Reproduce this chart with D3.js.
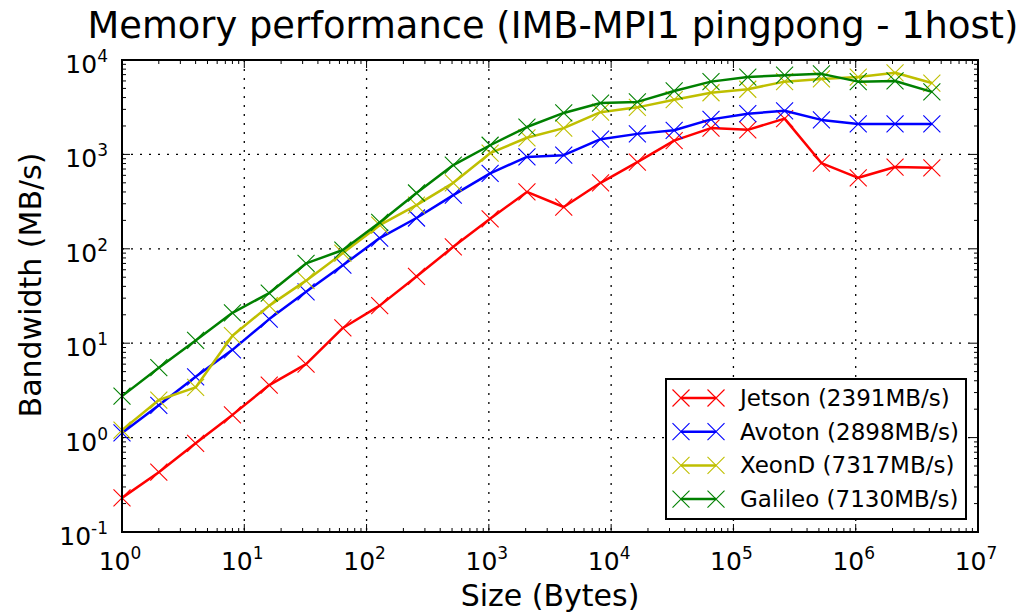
<!DOCTYPE html>
<html lang="en-us">
<head>
  <meta charset="UTF-8">
  <title>Memory performance</title>
  <script src="https://cdn.jsdelivr.net/npm/d3@7"></script>
  <style>
    body { margin: 0; background: #fff; }
    text { font-family: "DejaVu Sans", sans-serif; fill: #000; }
  </style>
</head>
<body>
<div id="chart"></div>
<script>

  // message sizes, 2^0 .. 2^22 bytes
  var sizes = [1, 2, 4, 8, 16, 32, 64, 128, 256, 512, 1024, 2048, 4096, 8192, 16384,
    32768, 65536, 131072, 262144, 524288, 1048576, 2097152, 4194304];

  var jetson = [0.23, 0.43, 0.87, 1.74, 3.6, 6.0, 14.5, 25, 51, 105, 208, 400, 277, 500, 830,
    1400, 1900, 1820, 2391, 810, 565, 735, 720];
  var avoton = [1.12, 2.2, 4.4, 8.5, 18, 35, 67, 130, 212, 370, 630, 940, 980, 1450, 1650,
    1800, 2350, 2700, 2898, 2320, 2100, 2100, 2100];
  var xeond = [1.2, 2.5, 3.4, 12, 25, 46, 90, 178, 290, 500, 1030, 1500, 1900, 2800, 3150,
    3800, 4500, 4900, 5900, 6300, 6600, 7317, 5700];
  var galileo = [2.75, 5.5, 10.7, 21, 34, 70, 97, 190, 390, 770, 1250, 1950, 2750, 3500, 3600,
    4700, 5900, 6600, 6900, 7130, 5900, 6000, 4600];

  var seriesNames = ["Jetson (2391MB/s)", "Avoton (2898MB/s)", "XeonD (7317MB/s)", "Galileo (7130MB/s)"];
  var seriesColors = ["#ff0000", "#0000ff", "#bfbf00", "#008000"];
  var seriesValues = [jetson, avoton, xeond, galileo];

  var xTicks = [1, 10, 100, 1e3, 1e4, 1e5, 1e6, 1e7];
  var yTicks = [0.1, 1, 10, 100, 1e3, 1e4];

  var W = 1021, H = 615;
  // plot box
  var pL = 122, pR = 978, pT = 60, pB = 532;

  var svg = d3.select("#chart").append("svg")
    .attr("width", W)
    .attr("height", H);

  var x = d3.scaleLog().domain([1, 1e7]).range([pL, pR]);
  var y = d3.scaleLog().domain([0.1, 1e4]).range([pB, pT]);

  function expLabel(sel, v) {
    var e = Math.round(Math.log10(v));
    sel.append("tspan").text("10");
    sel.append("tspan").attr("dy", -11).attr("font-size", 17).text(e);
  }

  function cross(cx, cy, s) {
    return "M" + (cx - s) + "," + (cy - s) + "L" + (cx + s) + "," + (cy + s) +
      "M" + (cx - s) + "," + (cy + s) + "L" + (cx + s) + "," + (cy - s);
  }

  // grid
  svg.append("g").selectAll("line").data(xTicks.slice(1, -1)).enter().append("line")
    .attr("x1", d => x(d)).attr("x2", d => x(d))
    .attr("y1", pT).attr("y2", pB)
    .attr("stroke", "#000").attr("stroke-width", 1.3).attr("stroke-dasharray", "2,7");
  svg.append("g").selectAll("line").data(yTicks.slice(1, -1)).enter().append("line")
    .attr("y1", d => y(d)).attr("y2", d => y(d))
    .attr("x1", pL).attr("x2", pR)
    .attr("stroke", "#000").attr("stroke-width", 1.3).attr("stroke-dasharray", "2,7");

  // ticks (inward, all four sides)
  var minorX = [], minorY = [];
  for (var e = 0; e < 7; e++) for (var m = 2; m < 10; m++) minorX.push(m * Math.pow(10, e));
  for (var e2 = -1; e2 < 4; e2++) for (var m2 = 2; m2 < 10; m2++) minorY.push(m2 * Math.pow(10, e2));

  var tk = svg.append("g").attr("stroke", "#000").attr("stroke-width", 1);
  xTicks.forEach(function(d) {
    tk.append("line").attr("x1", x(d)).attr("x2", x(d)).attr("y1", pB).attr("y2", pB - 8);
    tk.append("line").attr("x1", x(d)).attr("x2", x(d)).attr("y1", pT).attr("y2", pT + 8);
  });
  minorX.forEach(function(d) {
    tk.append("line").attr("x1", x(d)).attr("x2", x(d)).attr("y1", pB).attr("y2", pB - 4);
    tk.append("line").attr("x1", x(d)).attr("x2", x(d)).attr("y1", pT).attr("y2", pT + 4);
  });
  yTicks.forEach(function(d) {
    tk.append("line").attr("y1", y(d)).attr("y2", y(d)).attr("x1", pL).attr("x2", pL + 8);
    tk.append("line").attr("y1", y(d)).attr("y2", y(d)).attr("x1", pR).attr("x2", pR - 8);
  });
  minorY.forEach(function(d) {
    tk.append("line").attr("y1", y(d)).attr("y2", y(d)).attr("x1", pL).attr("x2", pL + 4);
    tk.append("line").attr("y1", y(d)).attr("y2", y(d)).attr("x1", pR).attr("x2", pR - 4);
  });

  // tick labels
  xTicks.forEach(function(d) {
    var t = svg.append("text").attr("x", x(d) - 2).attr("y", pB + 38)
      .attr("text-anchor", "middle").attr("font-size", 25);
    expLabel(t, d);
  });
  yTicks.forEach(function(d) {
    var t = svg.append("text").attr("x", 108).attr("y", y(d) + 13)
      .attr("text-anchor", "end").attr("font-size", 25);
    expLabel(t, d);
  });

  // lines
  var line = d3.line().x(d => x(d[0])).y(d => y(d[1]));
  var ms = 8.5;
  seriesValues.forEach(function(vals, i) {
    var pts = sizes.map((s, j) => [s, vals[j]]);
    var g = svg.append("g");
    g.append("path").datum(pts).attr("d", line)
      .attr("fill", "none").attr("stroke", seriesColors[i]).attr("stroke-width", 2.5)
      .attr("stroke-linejoin", "round");
    g.selectAll("path.m").data(pts).enter().append("path").attr("class", "m")
      .attr("d", d => cross(x(d[0]), y(d[1]), ms))
      .attr("stroke", seriesColors[i]).attr("stroke-width", 1.1).attr("fill", "none");
  });

  // frame
  svg.append("rect").attr("x", pL).attr("y", pT)
    .attr("width", pR - pL).attr("height", pB - pT)
    .attr("fill", "none").attr("stroke", "#000").attr("stroke-width", 2);

  // legend
  var lg = svg.append("g");
  lg.append("rect").attr("x", 666).attr("y", 379).attr("width", 300).attr("height", 140)
    .attr("fill", "#fff").attr("stroke", "#000").attr("stroke-width", 2);
  seriesNames.forEach(function(name, i) {
    var ly = 398 + i * 33.7;
    lg.append("line").attr("x1", 681).attr("x2", 716).attr("y1", ly).attr("y2", ly)
      .attr("stroke", seriesColors[i]).attr("stroke-width", 2.5);
    [681, 716].forEach(function(cx) {
      lg.append("path").attr("d", cross(cx, ly, ms))
        .attr("stroke", seriesColors[i]).attr("stroke-width", 1.1);
    });
    lg.append("text").attr("x", 740).attr("y", ly + 8).attr("font-size", 23).text(name);
  });

  // titles
  svg.append("text").attr("x", 553).attr("y", 38).attr("text-anchor", "middle")
    .attr("font-size", 36.8).text("Memory performance (IMB-MPI1 pingpong - 1host)");
  svg.append("text").attr("x", 550).attr("y", 606).attr("text-anchor", "middle")
    .attr("font-size", 30).text("Size (Bytes)");
  svg.append("text").attr("transform", "translate(41,285) rotate(-90)")
    .attr("text-anchor", "middle").attr("font-size", 30).text("Bandwidth (MB/s)");
</script>
</body>
</html>
